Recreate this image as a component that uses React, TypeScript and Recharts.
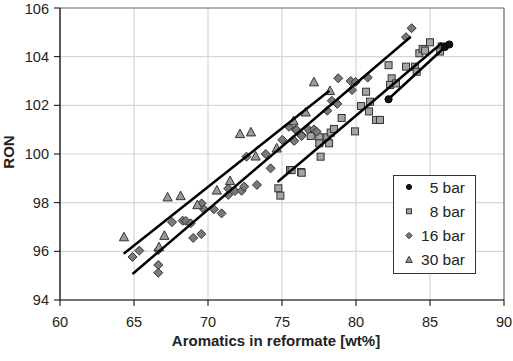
import { ScatterChart, Scatter, XAxis, YAxis, CartesianGrid, Legend, ReferenceLine, Label } from 'recharts';

// 5 bar (circles)
const bar5X = [82.2, 86.0, 86.3];
const bar5Y = [102.25, 104.4, 104.5];

// 8 bar (squares)
const bar8X = [74.75, 74.89, 75.54, 76.28, 75.65, 76.33, 76.94, 77.52, 77.52, 77.61, 78.06, 78.18, 78.29, 78.51, 79.03, 79.93, 80.34, 80.68, 80.95, 80.88, 81.35, 81.62, 82.2, 82.41, 82.3, 82.7, 83.38, 83.99, 84.1, 84.28, 84.5, 84.66, 85.0, 85.79, 85.68];
const bar8Y = [98.59, 98.29, 99.34, 99.26, 99.34, 99.23, 100.74, 100.69, 100.44, 99.89, 100.69, 100.44, 100.88, 101.03, 101.48, 100.93, 101.97, 102.56, 102.15, 101.75, 101.4, 101.4, 103.65, 103.11, 102.84, 102.9, 103.59, 103.59, 103.38, 104.14, 104.32, 104.25, 104.59, 104.42, 104.21];

// 16 bar (diamonds)
const bar16X = [64.9, 65.36, 66.64, 66.64, 66.64, 67.57, 68.29, 68.5, 68.83, 69.0, 69.55, 69.57, 69.73, 70.4, 70.92, 71.37, 71.37, 71.82, 72.27, 72.45, 73.31, 72.6, 73.9, 74.23, 75.02, 75.47, 75.76, 75.83, 75.92, 75.99, 76.33, 76.33, 76.78, 77.16, 77.34, 78.06, 78.36, 78.74, 78.8, 79.64, 79.73, 79.98, 80.79, 83.38, 83.76];
const bar16Y = [95.77, 96.03, 96.05, 95.44, 95.12, 97.2, 97.26, 97.25, 97.15, 96.55, 96.71, 97.97, 97.73, 97.73, 97.56, 98.32, 98.58, 98.48, 98.49, 98.66, 98.73, 99.89, 100.0, 99.41, 100.58, 101.12, 100.58, 100.54, 101.0, 100.99, 100.78, 100.74, 101.01, 101.01, 100.92, 101.78, 102.19, 102.06, 103.11, 103.0, 102.63, 102.96, 103.14, 104.8, 105.17];

// 30 bar (triangles)
const bar30X = [64.32, 66.69, 67.05, 67.27, 68.15, 69.28, 70.6, 71.49, 72.16, 72.9, 73.22, 74.64, 75.78, 76.6, 77.16, 78.24];
const bar30Y = [96.58, 96.17, 96.64, 98.22, 98.27, 97.9, 98.5, 98.89, 100.82, 100.89, 99.9, 100.23, 101.35, 101.71, 102.95, 102.59];

// trend lines (start, end)
const fit30X = [64.3, 78.2];
const fit30Y = [95.9, 102.6];
const fit16X = [64.9, 83.7];
const fit16Y = [95.07, 104.82];
const fit8X = [74.7, 85.8];
const fit8Y = [98.85, 104.56];
const fit5X = [82.2, 86.2];
const fit5Y = [102.26, 104.5];

const xTicks = [60, 65, 70, 75, 80, 85, 90];
const yTicks = [94, 96, 98, 100, 102, 104, 106];
const seriesNames = ['5 bar', '8 bar', '16 bar', '30 bar'];

const pts = (xs: number[], ys: number[]) => xs.map((x, i) => ({ x, y: ys[i] }));

const FONT = '"Liberation Sans", Arial, sans-serif';

const CircleDot = ({ cx, cy, s = 1 }: any) => (
  <circle cx={cx} cy={cy} r={3.6 * s} fill="#111" stroke="#000" strokeWidth={1} />
);
const SquareDot = ({ cx, cy, s = 1 }: any) => (
  <rect x={cx - 3.5 * s} y={cy - 3.5 * s} width={7 * s} height={7 * s} fill="#a4a4a4" stroke="#333" strokeWidth={1} />
);
const DiamondDot = ({ cx, cy, s = 1 }: any) => {
  const r = 4.5 * s;
  return <polygon points={`${cx},${cy - r} ${cx + r},${cy} ${cx},${cy + r} ${cx - r},${cy}`} fill="#7a7a7a" stroke="#333" strokeWidth={1} />;
};
const TriangleDot = ({ cx, cy, s = 1 }: any) => (
  <polygon points={`${cx},${cy - 5 * s} ${cx + 4.6 * s},${cy + 3.6 * s} ${cx - 4.6 * s},${cy + 3.6 * s}`} fill="#9a9a9a" stroke="#333" strokeWidth={1} />
);
const NoDot = () => <g />;

const markers = [CircleDot, SquareDot, DiamondDot, TriangleDot];

function LegendBox() {
  return (
    <svg width={83} height={99}>
      <rect x={0.5} y={0.5} width={82} height={98} fill="#fff" stroke="#333" strokeWidth={1} />
      {seriesNames.map((name, i) => {
        const Mk = markers[i];
        const y = 12 + i * 24.3;
        return (
          <g key={name}>
            <Mk cx={16} cy={y} s={0.7} />
            <text x={72} y={y + 5.5} textAnchor="end" fontFamily={FONT} fontSize={15.5} fill="#222">{name}</text>
          </g>
        );
      })}
    </svg>
  );
}

const lineStyle = { stroke: '#000', strokeWidth: 2.5 };

export default function App() {
  return (
    <div style={{ position: 'absolute', left: 0, top: 0, background: '#fff' }}>
      <ScatterChart width={513} height={361} margin={{ top: 8, right: 9, left: 0, bottom: 21 }}>
        <CartesianGrid stroke="#d6d6d6" strokeWidth={1.2} />
        <XAxis
          type="number"
          dataKey="x"
          domain={[60, 90]}
          ticks={xTicks}
          allowDataOverflow
          height={40}
          tickSize={6}
          tickMargin={11}
          axisLine={{ stroke: '#000', strokeWidth: 1.2 }}
          tickLine={{ stroke: '#000' }}
          tick={{ fill: '#222', fontSize: 14.5, fontFamily: FONT }}
        >
          <Label
            content={() => (
              <text x={276} y={346} textAnchor="middle" fontFamily={FONT} fontSize={15} fontWeight="bold" fill="#222">
                Aromatics in reformate [wt%]
              </text>
            )}
          />
        </XAxis>
        <YAxis
          type="number"
          dataKey="y"
          domain={[94, 106]}
          ticks={yTicks}
          allowDataOverflow
          width={60}
          tickSize={6}
          tickMargin={5}
          axisLine={{ stroke: '#000', strokeWidth: 1.2 }}
          tickLine={{ stroke: '#000' }}
          tick={{ fill: '#222', fontSize: 14.5, fontFamily: FONT }}
        >
          <Label
            content={() => (
              <text x={14} y={152} transform="rotate(-90 14 152)" textAnchor="middle" fontFamily={FONT} fontSize={15} fontWeight="bold" fill="#222">
                RON
              </text>
            )}
          />
        </YAxis>
        <ReferenceLine y={106} stroke="#777" strokeWidth={1.2} />
        <ReferenceLine x={90} stroke="#777" strokeWidth={1.2} />
        <Scatter name="8 bar" data={pts(bar8X, bar8Y)} shape={SquareDot} isAnimationActive={false} />
        <Scatter name="16 bar" data={pts(bar16X, bar16Y)} shape={DiamondDot} isAnimationActive={false} />
        <Scatter name="30 bar" data={pts(bar30X, bar30Y)} shape={TriangleDot} isAnimationActive={false} />
        <Scatter data={pts(fit30X, fit30Y)} line={lineStyle} shape={NoDot} legendType="none" isAnimationActive={false} />
        <Scatter data={pts(fit16X, fit16Y)} line={lineStyle} shape={NoDot} legendType="none" isAnimationActive={false} />
        <Scatter data={pts(fit8X, fit8Y)} line={lineStyle} shape={NoDot} legendType="none" isAnimationActive={false} />
        <Scatter data={pts(fit5X, fit5Y)} line={lineStyle} shape={NoDot} legendType="none" isAnimationActive={false} />
        <Scatter name="5 bar" data={pts(bar5X, bar5Y)} shape={CircleDot} isAnimationActive={false} />
        <Legend
          layout="vertical"
          align="center"
          verticalAlign="middle"
          content={() => <LegendBox />}
          wrapperStyle={{ left: 393, top: 175, width: 83, height: 99 }}
        />
      </ScatterChart>
    </div>
  );
}
